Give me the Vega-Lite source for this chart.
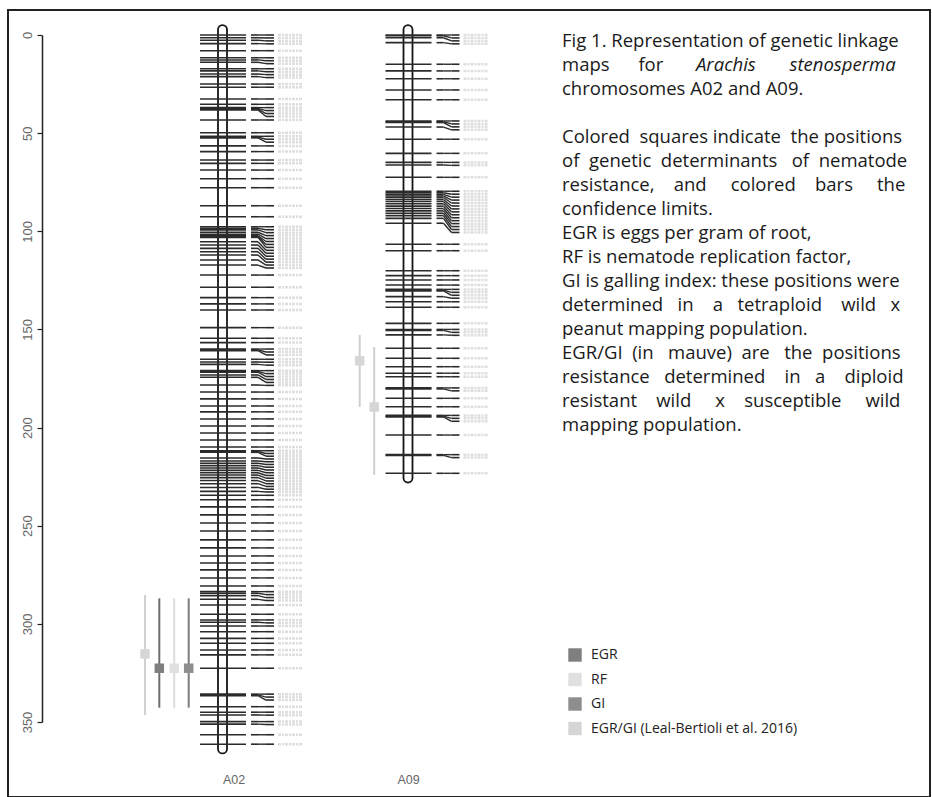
{
  "$schema": "https://vega.github.io/schema/vega-lite/v6.json",
  "width": 922,
  "height": 787,
  "autosize": {"type": "none"},
  "padding": {"left": 8, "top": 10, "right": 2, "bottom": 0},
  "background": "white",
  "config": {"view": {"stroke": "#222222", "strokeWidth": 2}, "axis": {"grid": false}},
  "datasets": {
    "chromosomes": [
      {"chr": 2, "name": "A02", "start": -5, "end": 366},
      {"chr": 9, "name": "A09", "start": -5, "end": 228}
    ],
    "markers": [
      {"chr":2,"pos":0,"label_pos":0},{"chr":2,"pos":1.4,"label_pos":1.5},{"chr":2,"pos":2.7,"label_pos":3.0},{"chr":2,"pos":4.4,"label_pos":4.5},
      {"chr":2,"pos":8.0,"label_pos":8.0},{"chr":2,"pos":11.6,"label_pos":11.6},{"chr":2,"pos":12.7,"label_pos":13.1},{"chr":2,"pos":13.9,"label_pos":14.6},
      {"chr":2,"pos":17.2,"label_pos":17.2},{"chr":2,"pos":18.3,"label_pos":18.7},{"chr":2,"pos":19.9,"label_pos":20.2},{"chr":2,"pos":21.2,"label_pos":21.7},
      {"chr":2,"pos":25.0,"label_pos":25.0},{"chr":2,"pos":26.6,"label_pos":26.6},{"chr":2,"pos":32.6,"label_pos":32.6},{"chr":2,"pos":35.3,"label_pos":35.3},
      {"chr":2,"pos":37.0,"label_pos":37.0},{"chr":2,"pos":37.4,"label_pos":38.5},{"chr":2,"pos":37.8,"label_pos":40.0},{"chr":2,"pos":38.2,"label_pos":41.5},
      {"chr":2,"pos":43.3,"label_pos":43.3},{"chr":2,"pos":49.8,"label_pos":49.8},{"chr":2,"pos":51.6,"label_pos":51.6},{"chr":2,"pos":52.0,"label_pos":53.1},
      {"chr":2,"pos":52.4,"label_pos":54.6},{"chr":2,"pos":56.5,"label_pos":56.5},{"chr":2,"pos":59.4,"label_pos":59.4},{"chr":2,"pos":63.7,"label_pos":63.7},
      {"chr":2,"pos":65.4,"label_pos":65.4},{"chr":2,"pos":68.8,"label_pos":68.8},{"chr":2,"pos":73.2,"label_pos":73.2},{"chr":2,"pos":77.8,"label_pos":77.8},
      {"chr":2,"pos":87.0,"label_pos":87.0},{"chr":2,"pos":92.6,"label_pos":92.6},{"chr":2,"pos":97.7,"label_pos":97.7},{"chr":2,"pos":98.5,"label_pos":99.2},
      {"chr":2,"pos":99.3,"label_pos":100.7},{"chr":2,"pos":100.5,"label_pos":102.2},{"chr":2,"pos":101.5,"label_pos":103.7},{"chr":2,"pos":102.3,"label_pos":105.2},
      {"chr":2,"pos":102.7,"label_pos":106.7},{"chr":2,"pos":103.1,"label_pos":108.2},{"chr":2,"pos":105.3,"label_pos":109.7},{"chr":2,"pos":107.0,"label_pos":111.2},
      {"chr":2,"pos":108.7,"label_pos":112.7},{"chr":2,"pos":110.4,"label_pos":114.2},{"chr":2,"pos":112.1,"label_pos":115.7},{"chr":2,"pos":114.6,"label_pos":117.2},
      {"chr":2,"pos":117.2,"label_pos":118.7},{"chr":2,"pos":122.3,"label_pos":122.3},{"chr":2,"pos":128.5,"label_pos":128.5},{"chr":2,"pos":133.8,"label_pos":133.8},
      {"chr":2,"pos":137.0,"label_pos":137.0},{"chr":2,"pos":140.1,"label_pos":140.1},{"chr":2,"pos":149.1,"label_pos":149.1},{"chr":2,"pos":154.5,"label_pos":154.5},
      {"chr":2,"pos":156.7,"label_pos":156.7},{"chr":2,"pos":160.0,"label_pos":160.0},{"chr":2,"pos":160.4,"label_pos":161.5},{"chr":2,"pos":160.8,"label_pos":163.0},
      {"chr":2,"pos":165.2,"label_pos":165.2},{"chr":2,"pos":166.6,"label_pos":166.7},{"chr":2,"pos":167.8,"label_pos":168.2},{"chr":2,"pos":171.0,"label_pos":171.0},
      {"chr":2,"pos":171.4,"label_pos":172.5},{"chr":2,"pos":171.8,"label_pos":174.0},{"chr":2,"pos":173.2,"label_pos":175.5},{"chr":2,"pos":174.4,"label_pos":177.0},
      {"chr":2,"pos":178.3,"label_pos":178.5},{"chr":2,"pos":181.9,"label_pos":181.9},{"chr":2,"pos":185.4,"label_pos":185.4},{"chr":2,"pos":189.0,"label_pos":189.0},
      {"chr":2,"pos":192.0,"label_pos":192.0},{"chr":2,"pos":195.6,"label_pos":195.6},{"chr":2,"pos":199.2,"label_pos":199.2},{"chr":2,"pos":202.8,"label_pos":202.8},
      {"chr":2,"pos":206.3,"label_pos":206.3},{"chr":2,"pos":209.9,"label_pos":209.9},{"chr":2,"pos":211.8,"label_pos":211.8},{"chr":2,"pos":212.2,"label_pos":213.2},
      {"chr":2,"pos":212.6,"label_pos":214.6},{"chr":2,"pos":215.5,"label_pos":216.0},{"chr":2,"pos":217.0,"label_pos":217.4},{"chr":2,"pos":218.2,"label_pos":218.8},
      {"chr":2,"pos":219.4,"label_pos":220.2},{"chr":2,"pos":220.6,"label_pos":221.6},{"chr":2,"pos":221.8,"label_pos":223.0},{"chr":2,"pos":223.0,"label_pos":224.4},
      {"chr":2,"pos":224.2,"label_pos":225.8},{"chr":2,"pos":225.5,"label_pos":227.2},{"chr":2,"pos":227.0,"label_pos":228.6},{"chr":2,"pos":228.6,"label_pos":230.0},
      {"chr":2,"pos":230.5,"label_pos":231.4},{"chr":2,"pos":232.5,"label_pos":232.8},{"chr":2,"pos":234.5,"label_pos":234.5},{"chr":2,"pos":236.8,"label_pos":236.8},
      {"chr":2,"pos":240.4,"label_pos":240.4},{"chr":2,"pos":244.5,"label_pos":244.5},{"chr":2,"pos":248.6,"label_pos":248.6},{"chr":2,"pos":252.7,"label_pos":252.7},
      {"chr":2,"pos":257.2,"label_pos":257.2},{"chr":2,"pos":261.3,"label_pos":261.3},{"chr":2,"pos":265.4,"label_pos":265.4},{"chr":2,"pos":269.0,"label_pos":269.0},
      {"chr":2,"pos":272.5,"label_pos":272.5},{"chr":2,"pos":276.6,"label_pos":276.6},{"chr":2,"pos":280.7,"label_pos":280.7},{"chr":2,"pos":283.6,"label_pos":283.6},
      {"chr":2,"pos":284.4,"label_pos":285.1},{"chr":2,"pos":285.6,"label_pos":286.6},{"chr":2,"pos":287.5,"label_pos":288.1},{"chr":2,"pos":290.4,"label_pos":290.4},
      {"chr":2,"pos":295.1,"label_pos":295.1},{"chr":2,"pos":298.0,"label_pos":298.0},{"chr":2,"pos":299.2,"label_pos":299.5},{"chr":2,"pos":301.1,"label_pos":301.1},
      {"chr":2,"pos":304.0,"label_pos":304.0},{"chr":2,"pos":307.4,"label_pos":307.4},{"chr":2,"pos":309.9,"label_pos":309.9},{"chr":2,"pos":313.3,"label_pos":313.3},
      {"chr":2,"pos":315.8,"label_pos":315.8},{"chr":2,"pos":322.6,"label_pos":322.6},{"chr":2,"pos":335.8,"label_pos":335.8},{"chr":2,"pos":336.2,"label_pos":337.3},
      {"chr":2,"pos":336.6,"label_pos":338.8},{"chr":2,"pos":342.2,"label_pos":342.2},{"chr":2,"pos":345.0,"label_pos":345.0},{"chr":2,"pos":346.4,"label_pos":346.5},
      {"chr":2,"pos":349.8,"label_pos":349.8},{"chr":2,"pos":351.1,"label_pos":351.3},{"chr":2,"pos":356.5,"label_pos":356.5},{"chr":2,"pos":361.3,"label_pos":361.3},
      {"chr":9,"pos":0,"label_pos":0},{"chr":9,"pos":0.4,"label_pos":1.5},{"chr":9,"pos":1.4,"label_pos":3.0},{"chr":9,"pos":3.9,"label_pos":4.5},
      {"chr":9,"pos":14.9,"label_pos":14.9},{"chr":9,"pos":18.3,"label_pos":18.3},{"chr":9,"pos":22.3,"label_pos":22.3},{"chr":9,"pos":28.0,"label_pos":28.0},
      {"chr":9,"pos":33.0,"label_pos":33.0},{"chr":9,"pos":43.8,"label_pos":43.8},{"chr":9,"pos":44.2,"label_pos":45.3},{"chr":9,"pos":44.6,"label_pos":46.8},
      {"chr":9,"pos":46.9,"label_pos":48.3},{"chr":9,"pos":53.1,"label_pos":53.1},{"chr":9,"pos":60.3,"label_pos":60.3},{"chr":9,"pos":64.9,"label_pos":64.9},
      {"chr":9,"pos":66.2,"label_pos":66.4},{"chr":9,"pos":72.5,"label_pos":72.5},{"chr":9,"pos":79.6,"label_pos":79.6},{"chr":9,"pos":80.4,"label_pos":81.1},
      {"chr":9,"pos":81.2,"label_pos":82.6},{"chr":9,"pos":82.0,"label_pos":84.1},{"chr":9,"pos":82.8,"label_pos":85.6},{"chr":9,"pos":83.8,"label_pos":87.1},
      {"chr":9,"pos":84.8,"label_pos":88.6},{"chr":9,"pos":86.0,"label_pos":90.1},{"chr":9,"pos":87.2,"label_pos":91.6},{"chr":9,"pos":88.4,"label_pos":93.1},
      {"chr":9,"pos":89.6,"label_pos":94.6},{"chr":9,"pos":90.8,"label_pos":96.1},{"chr":9,"pos":92.0,"label_pos":97.6},{"chr":9,"pos":93.4,"label_pos":99.1},
      {"chr":9,"pos":95.9,"label_pos":100.6},{"chr":9,"pos":106.6,"label_pos":106.6},{"chr":9,"pos":109.9,"label_pos":109.9},{"chr":9,"pos":120.1,"label_pos":120.1},
      {"chr":9,"pos":122.6,"label_pos":122.6},{"chr":9,"pos":124.8,"label_pos":124.8},{"chr":9,"pos":127.4,"label_pos":127.4},{"chr":9,"pos":129.6,"label_pos":129.6},
      {"chr":9,"pos":130.0,"label_pos":131.1},{"chr":9,"pos":130.4,"label_pos":132.6},{"chr":9,"pos":133.3,"label_pos":134.1},{"chr":9,"pos":135.9,"label_pos":135.9},
      {"chr":9,"pos":138.7,"label_pos":138.7},{"chr":9,"pos":146.9,"label_pos":146.9},{"chr":9,"pos":150.0,"label_pos":150.0},{"chr":9,"pos":150.5,"label_pos":151.5},
      {"chr":9,"pos":152.8,"label_pos":153.0},{"chr":9,"pos":159.6,"label_pos":159.6},{"chr":9,"pos":164.7,"label_pos":164.7},{"chr":9,"pos":169.0,"label_pos":169.0},
      {"chr":9,"pos":172.3,"label_pos":172.3},{"chr":9,"pos":174.1,"label_pos":174.1},{"chr":9,"pos":179.8,"label_pos":179.8},{"chr":9,"pos":180.3,"label_pos":181.3},
      {"chr":9,"pos":185.1,"label_pos":185.1},{"chr":9,"pos":189.4,"label_pos":189.4},{"chr":9,"pos":193.8,"label_pos":193.8},{"chr":9,"pos":194.2,"label_pos":195.3},
      {"chr":9,"pos":194.6,"label_pos":196.8},{"chr":9,"pos":203.8,"label_pos":203.8},{"chr":9,"pos":213.8,"label_pos":213.8},{"chr":9,"pos":214.2,"label_pos":215.3},
      {"chr":9,"pos":223.3,"label_pos":223.3}
    ],
    "qtl": [
      {"chr": 2, "trait": "EGR/GI (Leal-Bertioli et al. 2016)", "lane": 1, "low": 285.3, "high": 346.4, "peak": 315.3},
      {"chr": 2, "trait": "EGR", "lane": 2, "low": 287.0, "high": 342.7, "peak": 322.6},
      {"chr": 2, "trait": "RF", "lane": 3, "low": 287.0, "high": 342.7, "peak": 322.6},
      {"chr": 2, "trait": "GI", "lane": 4, "low": 287.0, "high": 342.7, "peak": 322.6},
      {"chr": 9, "trait": "EGR/GI (Leal-Bertioli et al. 2016)", "lane": 3, "low": 152.8, "high": 189.5, "peak": 166.0},
      {"chr": 9, "trait": "EGR/GI (Leal-Bertioli et al. 2016)", "lane": 4, "low": 159.0, "high": 224.0, "peak": 189.5}
    ],
    "caption": [
      {"line": 1, "text": "Fig 1. Representation of genetic linkage"},
      {"line": 2, "text": "maps\u00a0\u00a0\u00a0\u00a0\u00a0\u00a0for"},
      {"line": 3, "text": "chromosomes A02 and A09."},
      {"line": 5, "text": "Colored\u00a0\u00a0squares indicate\u00a0\u00a0the positions"},
      {"line": 6, "text": "of\u00a0\u00a0genetic\u00a0\u00a0determinants\u00a0\u00a0\u00a0of\u00a0\u00a0nematode"},
      {"line": 7, "text": "resistance,\u00a0\u00a0\u00a0\u00a0and\u00a0\u00a0\u00a0\u00a0\u00a0colored\u00a0\u00a0\u00a0\u00a0bars\u00a0\u00a0\u00a0\u00a0\u00a0the"},
      {"line": 8, "text": "confidence limits."},
      {"line": 9, "text": "EGR is eggs per gram of root,"},
      {"line": 10, "text": "RF is nematode replication factor,"},
      {"line": 11, "text": "GI is galling index: these positions were"},
      {"line": 12, "text": "determined\u00a0\u00a0\u00a0in\u00a0\u00a0\u00a0\u00a0a\u00a0\u00a0\u00a0tetraploid\u00a0\u00a0\u00a0\u00a0wild\u00a0\u00a0\u00a0x"},
      {"line": 13, "text": "peanut mapping population."},
      {"line": 14, "text": "EGR/GI\u00a0\u00a0(in\u00a0\u00a0\u00a0mauve)\u00a0\u00a0are\u00a0\u00a0\u00a0the\u00a0\u00a0positions"},
      {"line": 15, "text": "resistance\u00a0\u00a0\u00a0determined\u00a0\u00a0\u00a0\u00a0in\u00a0\u00a0\u00a0a\u00a0\u00a0\u00a0\u00a0diploid"},
      {"line": 16, "text": "resistant\u00a0\u00a0\u00a0\u00a0wild\u00a0\u00a0\u00a0\u00a0\u00a0x\u00a0\u00a0\u00a0\u00a0susceptible\u00a0\u00a0\u00a0\u00a0\u00a0wild"},
      {"line": 17, "text": "mapping population."}
    ],
    "caption_italic": [
      {"line": 2, "text": "Arachis\u00a0\u00a0\u00a0\u00a0\u00a0\u00a0\u00a0stenosperma"}
    ]
  },
  "layer": [
    {
      "layer": [
        {
          "data": {"name": "chromosomes"},
          "mark": {"type": "rect", "xOffset": -4.5, "x2Offset": 4.5, "cornerRadius": 4.5, "fill": "transparent", "stroke": "#151515", "strokeWidth": 1.8},
          "encoding": {
            "x": {
              "field": "chr", "type": "quantitative",
              "scale": {"domain": [2, 9], "range": [214.5, 400], "nice": false, "zero": false},
              "axis": {"orient": "bottom", "values": [2, 9], "labelExpr": "datum.value == 2 ? 'A02' : 'A09'", "labelFlush": false, "labelAlign": {"condition": {"test": "datum.value == 2", "value": "left"}, "value": "center"}, "ticks": false, "domain": false, "grid": false, "labelPadding": 0, "offset": -24, "title": null, "labelColor": "#666666", "labelFont": "Liberation Sans", "labelFontSize": 12.5}
            },
            "x2": {"field": "chr"},
            "y": {
              "field": "start", "type": "quantitative",
              "scale": {"domain": [0, 350], "range": [25, 712], "nice": false, "zero": false},
              "axis": {"orient": "left", "offset": -34, "values": [0, 50, 100, 150, 200, 250, 300, 350], "domain": true, "domainColor": "#222222", "domainWidth": 1.5, "ticks": true, "tickSize": 5, "tickColor": "#222222", "tickWidth": 1.2, "labelAngle": 270, "labelAlign": "center", "labelBaseline": "bottom", "labelFlush": false, "labelPadding": 3, "labelColor": "#666666", "labelFont": "Liberation Sans", "labelFontSize": 13, "grid": false, "title": null}
            },
            "y2": {"field": "end"}
          }
        },
        {
          "data": {"name": "markers"},
          "mark": {"type": "rule", "xOffset": -22.5, "x2Offset": 23.5, "color": "#2b2b2b", "strokeWidth": 1.6},
          "encoding": {"x": {"field": "chr", "type": "quantitative"}, "x2": {"field": "chr"}, "y": {"field": "pos", "type": "quantitative"}}
        },
        {
          "data": {"name": "markers"},
          "mark": {"type": "rule", "xOffset": 28.5, "x2Offset": 35.5, "color": "#2b2b2b", "strokeWidth": 1.6},
          "encoding": {"x": {"field": "chr", "type": "quantitative"}, "x2": {"field": "chr"}, "y": {"field": "pos", "type": "quantitative"}}
        },
        {
          "data": {"name": "markers"},
          "mark": {"type": "rule", "xOffset": 35.5, "x2Offset": 43.5, "color": "#2b2b2b", "strokeWidth": 1.4},
          "encoding": {"x": {"field": "chr", "type": "quantitative"}, "x2": {"field": "chr"}, "y": {"field": "pos", "type": "quantitative"}, "y2": {"field": "label_pos"}}
        },
        {
          "data": {"name": "markers"},
          "mark": {"type": "rule", "xOffset": 43.5, "x2Offset": 51.5, "color": "#2b2b2b", "strokeWidth": 1.6},
          "encoding": {"x": {"field": "chr", "type": "quantitative"}, "x2": {"field": "chr"}, "y": {"field": "label_pos", "type": "quantitative"}}
        },
        {
          "data": {"name": "markers"},
          "mark": {"type": "rule", "xOffset": 55.5, "x2Offset": 80, "color": "#dedede", "strokeWidth": 2.5, "strokeDash": [3, 1, 2, 1]},
          "encoding": {"x": {"field": "chr", "type": "quantitative"}, "x2": {"field": "chr"}, "y": {"field": "label_pos", "type": "quantitative"}}
        },
        {
          "data": {"name": "qtl"},
          "transform": [{"filter": "datum.lane == 1"}],
          "mark": {"type": "rule", "strokeWidth": 2, "xOffset": -77.5},
          "encoding": {
            "x": {"field": "chr", "type": "quantitative"}, "y": {"field": "low", "type": "quantitative"}, "y2": {"field": "high"},
            "stroke": {"field": "trait", "type": "nominal", "legend": null,
              "scale": {"domain": ["EGR/GI (Leal-Bertioli et al. 2016)", "GI", "RF", "EGR"], "range": ["#d0d0d0", "#7d7d7d", "#dcdcdc", "#6e6e6e"]}}
          }
        },
        {
          "data": {"name": "qtl"},
          "transform": [{"filter": "datum.lane == 2"}],
          "mark": {"type": "rule", "strokeWidth": 2, "xOffset": -63.2},
          "encoding": {"x": {"field": "chr", "type": "quantitative"}, "y": {"field": "low", "type": "quantitative"}, "y2": {"field": "high"}, "stroke": {"field": "trait", "type": "nominal", "legend": null}}
        },
        {
          "data": {"name": "qtl"},
          "transform": [{"filter": "datum.lane == 3"}],
          "mark": {"type": "rule", "strokeWidth": 2, "xOffset": -48.3},
          "encoding": {"x": {"field": "chr", "type": "quantitative"}, "y": {"field": "low", "type": "quantitative"}, "y2": {"field": "high"}, "stroke": {"field": "trait", "type": "nominal", "legend": null}}
        },
        {
          "data": {"name": "qtl"},
          "transform": [{"filter": "datum.lane == 4"}],
          "mark": {"type": "rule", "strokeWidth": 2, "xOffset": -33.8},
          "encoding": {"x": {"field": "chr", "type": "quantitative"}, "y": {"field": "low", "type": "quantitative"}, "y2": {"field": "high"}, "stroke": {"field": "trait", "type": "nominal", "legend": null}}
        },
        {
          "data": {"name": "qtl"},
          "transform": [{"filter": "datum.lane == 1"}],
          "mark": {"type": "square", "size": 90, "opacity": 1, "xOffset": -77.5},
          "encoding": {
            "x": {"field": "chr", "type": "quantitative"}, "y": {"field": "peak", "type": "quantitative"},
            "color": {
              "field": "trait", "type": "nominal",
              "scale": {"domain": ["EGR", "RF", "GI", "EGR/GI (Leal-Bertioli et al. 2016)"], "range": ["#7f7f7f", "#e0e0e0", "#8e8e8e", "#d6d6d6"]},
              "legend": {"orient": "none", "legendX": 560, "legendY": 638, "title": null, "direction": "vertical", "symbolType": "square", "symbolSize": 180, "symbolStrokeWidth": 0, "symbolOpacity": 1, "labelFont": "Open Sans", "labelFontSize": 14, "labelColor": "#222222", "labelOffset": 9, "rowPadding": 10.5, "labelLimit": 400}
            }
          }
        },
        {
          "data": {"name": "qtl"},
          "transform": [{"filter": "datum.lane == 2"}],
          "mark": {"type": "square", "size": 90, "opacity": 1, "xOffset": -63.2},
          "encoding": {"x": {"field": "chr", "type": "quantitative"}, "y": {"field": "peak", "type": "quantitative"}, "color": {"field": "trait", "type": "nominal"}}
        },
        {
          "data": {"name": "qtl"},
          "transform": [{"filter": "datum.lane == 3"}],
          "mark": {"type": "square", "size": 90, "opacity": 1, "xOffset": -48.3},
          "encoding": {"x": {"field": "chr", "type": "quantitative"}, "y": {"field": "peak", "type": "quantitative"}, "color": {"field": "trait", "type": "nominal"}}
        },
        {
          "data": {"name": "qtl"},
          "transform": [{"filter": "datum.lane == 4"}],
          "mark": {"type": "square", "size": 90, "opacity": 1, "xOffset": -33.8},
          "encoding": {"x": {"field": "chr", "type": "quantitative"}, "y": {"field": "peak", "type": "quantitative"}, "color": {"field": "trait", "type": "nominal"}}
        }
      ]
    },
    {
      "layer": [
        {
          "data": {"name": "caption"},
          "mark": {"type": "text", "align": "left", "baseline": "middle", "font": "Open Sans", "fontSize": 18.5, "color": "#1a1a1a"},
          "encoding": {
            "x": {"datum": 0, "type": "quantitative", "scale": {"domain": [0, 1], "range": [554, 895], "zero": false, "nice": false}, "axis": null},
            "y": {"field": "line", "type": "quantitative", "scale": {"domain": [1, 17], "range": [31, 415], "zero": false, "nice": false}, "axis": null},
            "text": {"field": "text"}
          }
        },
        {
          "data": {"name": "caption_italic"},
          "mark": {"type": "text", "align": "left", "baseline": "middle", "font": "Open Sans", "fontSize": 18.5, "fontStyle": "italic", "dx": 134, "color": "#1a1a1a"},
          "encoding": {
            "x": {"datum": 0, "type": "quantitative"},
            "y": {"field": "line", "type": "quantitative"},
            "text": {"field": "text"}
          }
        }
      ]
    }
  ],
  "resolve": {"scale": {"x": "independent", "y": "independent"}}
}
